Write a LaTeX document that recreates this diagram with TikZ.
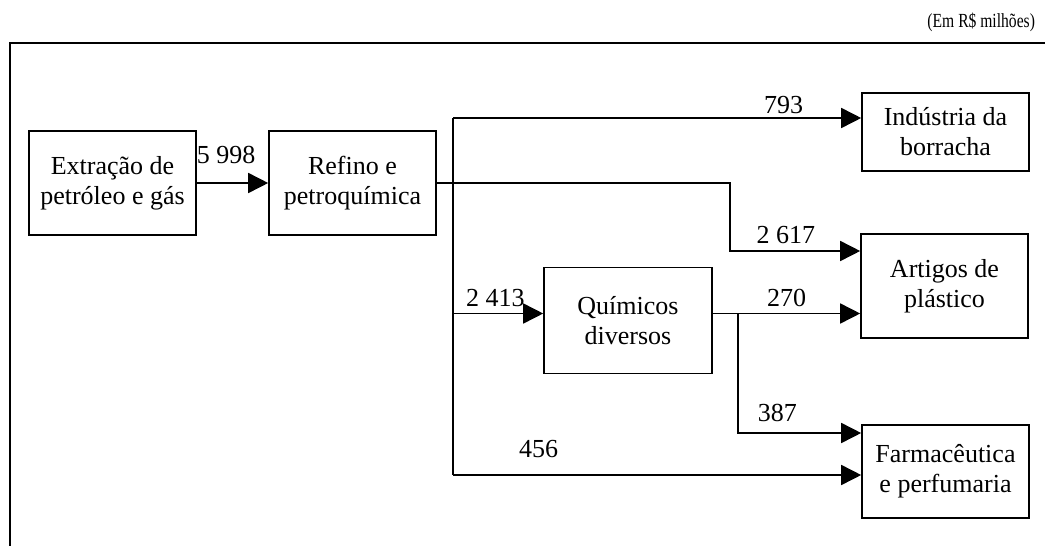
\documentclass[tikz,border=0pt]{standalone}
\usepackage{fontspec}
\setmainfont{Liberation Serif}
\newfontfamily\narrowserif[FakeStretch=0.78]{Liberation Serif}
\usetikzlibrary{arrows.meta,calc}

\begin{document}
\begin{tikzpicture}[x=0.5pt,y=-0.5pt,
  box/.style={draw,line width=0.8pt,align=center,inner sep=2pt,
    minimum width=83.5pt,font=\fontsize{13}{15}\selectfont},
  flow/.style={line width=0.8pt,-{Triangle[length=10pt,width=10pt]}},
  val/.style={font=\fontsize{13}{15}\selectfont,inner sep=0pt,anchor=south}]
  \useasboundingbox (0,0) rectangle (1045,546);
  \draw[line width=1pt] (10,546) -- (10,43) -- (1045,43);
  \node[anchor=east,font=\narrowserif\fontsize{10}{12}\selectfont] (unidade) at (1042,22) {(Em R\$ milhões)};

  \node[box,minimum height=52pt] (extracao) at (112.5,183) {Extração de\\petróleo e gás};
  \node[box,minimum height=52pt] (refino) at (352.5,183) {Refino e\\petroquímica};
  \node[box,minimum width=84pt,minimum height=53pt] (quimicos) at (628,320.5) {Químicos\\diversos};
  \node[box,minimum height=39pt] (borracha) at (945.5,132) {Indústria da\\borracha};
  \node[box,minimum height=52pt] (plastico) at (944.5,286) {Artigos de\\plástico};
  \node[box,minimum height=46.5pt] (farma) at (945.5,471.5) {Farmacêutica\\e perfumaria};

  \coordinate (bt) at (453,118);
  \coordinate (bm) at (453,313.5);
  \coordinate (bb) at (453,475);
  \coordinate (j1) at (730,251);
  \coordinate (j2) at (738,313.5);

  \draw[flow] (extracao) -- node[val,pos=.41,yshift=9pt] {5 998} (refino);
  \draw[line width=0.8pt] (bt) -- (bb);
  \draw[flow] (bt) -- node[val,pos=.81,yshift=1.5pt] {793} ([yshift=7pt]borracha.west);
  \draw[flow] (refino.east) -| (j1) -- node[val,pos=.43,yshift=3pt] {2 617} ([yshift=17.5pt]plastico.west);
  \draw[flow] (bm) -- node[val,pos=.47,yshift=3pt] {2 413} ([yshift=3.5pt]quimicos.west);
  \draw[flow] ([yshift=3.5pt]quimicos.east) -- node[val,pos=.5,yshift=3pt] {270} ([yshift=-13.75pt]plastico.west);
  \draw[flow] (j2) |- node[val,pos=.66,yshift=5pt] {387} ([yshift=19.25pt]farma.west);
  \draw[flow] (bb) -- node[val,pos=.21,yshift=8pt] {456} ([yshift=-1.75pt]farma.west);
\end{tikzpicture}
\end{document}
